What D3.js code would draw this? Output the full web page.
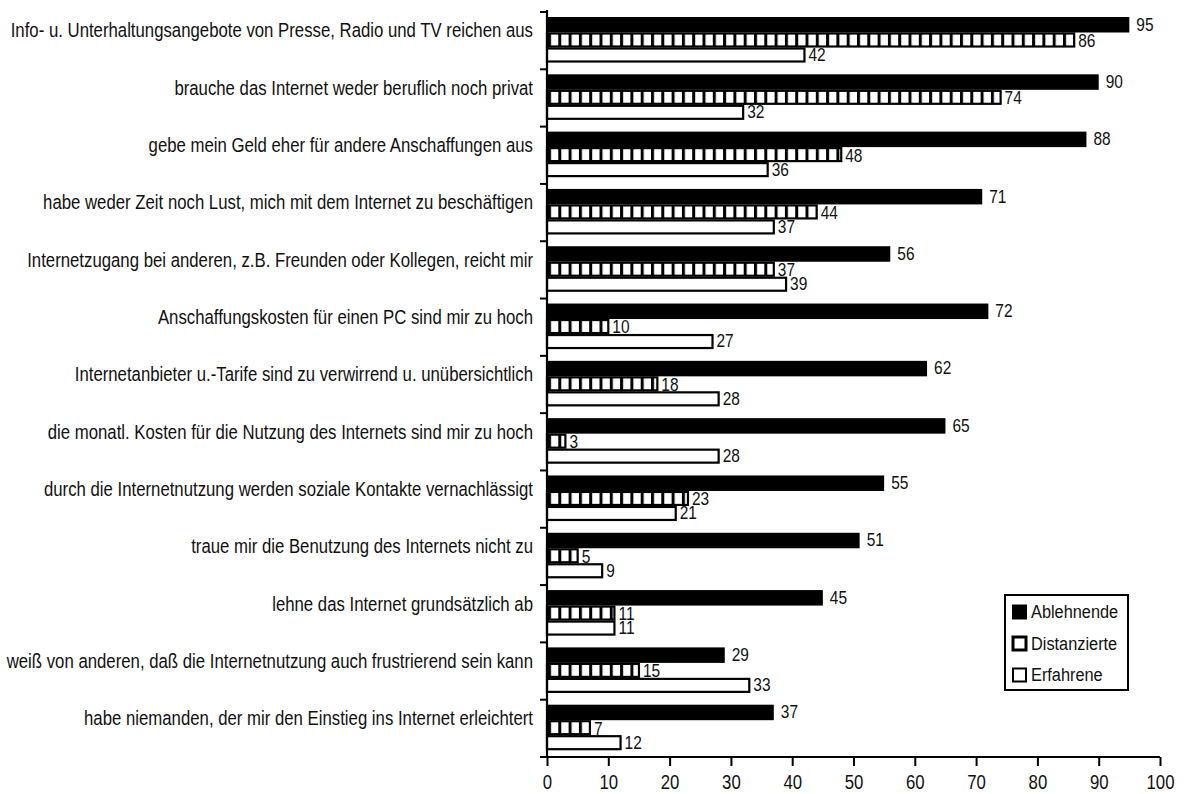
<!DOCTYPE html>
<html><head><meta charset="utf-8">
<script src="https://cdn.jsdelivr.net/npm/d3@7"></script>
<style>
body{margin:0;background:#fff;}
svg{display:block;}
text{font-family:"Liberation Sans",Arial,sans-serif;fill:#111;}
</style></head>
<body>
<svg id="chart" width="1191" height="794"></svg>
<script>
const categories = [
  "Info- u. Unterhaltungsangebote von Presse, Radio und TV reichen aus",
  "brauche das Internet weder beruflich noch privat",
  "gebe mein Geld eher für andere Anschaffungen aus",
  "habe weder Zeit noch Lust, mich mit dem Internet zu beschäftigen",
  "Internetzugang bei anderen, z.B. Freunden oder Kollegen, reicht mir",
  "Anschaffungskosten für einen PC sind mir zu hoch",
  "Internetanbieter u.-Tarife sind zu verwirrend u. unübersichtlich",
  "die monatl. Kosten für die Nutzung des Internets sind mir zu hoch",
  "durch die Internetnutzung werden soziale Kontakte vernachlässigt",
  "traue mir die Benutzung des Internets nicht zu",
  "lehne das Internet grundsätzlich ab",
  "weiß von anderen, daß die Internetnutzung auch frustrierend sein kann",
  "habe niemanden, der mir den Einstieg ins Internet erleichtert"
];
const seriesNames = ["Ablehnende", "Distanzierte", "Erfahrene"];
const ablehnende   = [95, 90, 88, 71, 56, 72, 62, 65, 55, 51, 45, 29, 37];
const distanzierte = [86, 74, 48, 44, 37, 10, 18,  3, 23,  5, 11, 15,  7];
const erfahrene    = [42, 32, 36, 37, 39, 27, 28, 28, 21,  9, 11, 33, 12];
const xTicks = [0, 10, 20, 30, 40, 50, 60, 70, 80, 90, 100];

const svg = d3.select("#chart");
const x0 = 547, x1 = 1160, yTop = 12, yBot = 757;
const x = d3.scaleLinear().domain([0, 100]).range([x0, x1]);
const y = d3.scaleBand().domain(categories).range([yTop, yBot]);
const SX = 0.86; // horizontal condensing (narrow face)

const defs = svg.append("defs");
const pat = defs.append("pattern").attr("id", "dist").attr("patternUnits", "userSpaceOnUse")
  .attr("width", 10.3).attr("height", 40).attr("x", x0 + 1);
pat.append("rect").attr("width", 10.3).attr("height", 40).attr("fill", "#fff");
pat.append("rect").attr("width", 3).attr("height", 40).attr("fill", "#000");

const series = [ablehnende, distanzierte, erfahrene];
const barOff = [5, 20.5, 35.5];
const barH = [15.5, 15, 15];

function condensed(sel, fx, fy) {
  return sel.attr("transform", (d, i) => `translate(${fx(d, i)},${fy(d, i)}) scale(${SX},1)`);
}

series.forEach((vals, si) => {
  const g = svg.append("g");
  g.selectAll("rect").data(vals).join("rect")
    .attr("x", x(0))
    .attr("y", (d, i) => y(categories[i]) + barOff[si] + (si === 0 ? 0 : 1))
    .attr("width", d => x(d) - x(0))
    .attr("height", barH[si] - (si === 0 ? 0 : 2))
    .attr("fill", si === 0 ? "#000" : si === 1 ? "url(#dist)" : "#fff")
    .attr("stroke", "#000")
    .attr("stroke-width", si === 0 ? 0 : 2.2);
  condensed(g.selectAll("text").data(vals).join("text"),
      d => x(d) + (si === 0 ? 7 : 4),
      (d, i) => y(categories[i]) + barOff[si] + barH[si] / 2 + (si === 1 ? 1 : 0))
    .attr("dominant-baseline", "central")
    .attr("font-size", 18)
    .text(d => d);
});

// y axis
svg.append("line").attr("x1", x0).attr("x2", x0).attr("y1", yTop - 2).attr("y2", yBot)
  .attr("stroke", "#000").attr("stroke-width", 2.2);
const bounds = categories.map(c => y(c)).concat([yBot]);
svg.selectAll(".ytick").data(bounds).join("line")
  .attr("x1", x0 - 7).attr("x2", x0).attr("y1", d => d).attr("y2", d => d)
  .attr("stroke", "#000").attr("stroke-width", 2);

// category labels
condensed(svg.selectAll(".cat").data(categories).join("text"),
    () => 533, d => y(d) + 19)
  .attr("text-anchor", "end").attr("dominant-baseline", "central")
  .attr("font-size", 19.5).text(d => d);

// x axis
const xAxis = svg.append("g").attr("transform", `translate(0,${yBot})`)
  .call(d3.axisBottom(x).tickValues(xTicks).tickSize(9).tickPadding(8));
xAxis.select(".domain").attr("stroke-width", 2.2).attr("d", `M${x0 - 7},0H${x1}`);
xAxis.selectAll(".tick line").attr("stroke-width", 2);
xAxis.selectAll(".tick text").attr("font-size", 19.5)
  .attr("font-family", '"Liberation Sans",Arial,sans-serif').attr("fill", "#111")
  .attr("y", 0).attr("dy", 0)
  .attr("transform", `translate(0,26) scale(${SX},1)`)
  .attr("dominant-baseline", "central");

// legend
const lg = svg.append("g");
lg.append("rect").attr("x", 1005).attr("y", 595).attr("width", 123).attr("height", 95)
  .attr("fill", "#fff").attr("stroke", "#000").attr("stroke-width", 2);
const fills = ["#000", "#fff", "#fff"];
seriesNames.forEach((n, i) => {
  const cy = 612 + i * 31.5;
  lg.append("rect").attr("x", 1013).attr("y", cy - 6.5).attr("width", 13).attr("height", 13)
    .attr("fill", fills[i]).attr("stroke", "#000").attr("stroke-width", i === 1 ? 3 : 2);
  lg.append("text").attr("transform", `translate(1031,${cy}) scale(${SX},1)`)
    .attr("dominant-baseline", "central")
    .attr("font-size", 19).text(n);
});
</script>
</body></html>
